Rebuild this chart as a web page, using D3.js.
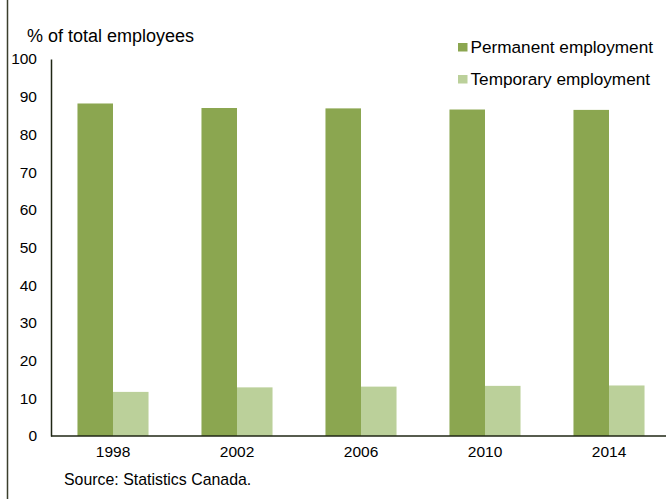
<!DOCTYPE html>
<html>
<head>
<meta charset="utf-8">
<script src="https://cdn.jsdelivr.net/npm/d3@7"></script>
<style>
  body { margin: 0; background: #fff; }
  svg { display: block; font-family: "Liberation Sans", Arial, sans-serif; }
</style>
</head>
<body>
<div id="plot"></div>
<script>
// data
const years = ["1998", "2002", "2006", "2010", "2014"];
const permanent = [88.2, 87.0, 86.9, 86.6, 86.5];
const temporary = [11.7, 12.9, 13.1, 13.3, 13.4];
const yTicks = [0, 10, 20, 30, 40, 50, 60, 70, 80, 90, 100];
const seriesNames = ["Permanent employment", "Temporary employment"];

const width = 666, height = 499;
const colors = ["#8ba650", "#bbd09a"];

const svg = d3.select("#plot")
  .append("svg")
  .attr("width", width)
  .attr("height", height);

// left frame line
svg.append("line")
  .attr("x1", 7.5).attr("x2", 7.5)
  .attr("y1", 0).attr("y2", height)
  .attr("stroke", "#3b3f2c")
  .attr("stroke-width", 1.5);

const x = d3.scaleBand()
  .domain(years)
  .range([51, 671])
  .paddingInner(0.427)
  .paddingOuter(0.2135);

const xs = d3.scaleBand()
  .domain([0, 1])
  .range([0, x.bandwidth()]);

const y = d3.scaleLinear()
  .domain([0, 100])
  .range([436, 59]);

// bars
const rows = years.map((yr, i) => ({ year: yr, values: [permanent[i], temporary[i]] }));

const groups = svg.selectAll(".year")
  .data(rows)
  .enter().append("g")
  .attr("class", "year")
  .attr("transform", d => `translate(${x(d.year)},0)`);

groups.selectAll("rect")
  .data(d => d.values.map((v, k) => ({ v, k })))
  .enter().append("rect")
  .attr("x", d => xs(d.k))
  .attr("width", xs.bandwidth())
  .attr("y", d => y(d.v))
  .attr("height", d => y(0) - y(d.v))
  .attr("fill", d => colors[d.k]);

// y axis
const yAxis = svg.append("g")
  .attr("transform", "translate(51,0)")
  .call(d3.axisLeft(y).tickValues(yTicks).tickSize(0).tickPadding(14));
yAxis.select(".domain").attr("stroke", "#1f2614").attr("stroke-width", 1.5);
yAxis.selectAll("text")
  .attr("font-size", "15.5px")
  .attr("fill", "#000")
  .attr("font-family", "Liberation Sans, Arial, sans-serif");

// x axis
const xAxis = svg.append("g")
  .attr("transform", "translate(0,436)")
  .call(d3.axisBottom(x).tickSize(0).tickPadding(10));
xAxis.select(".domain")
  .attr("d", "M51,0H671")
  .attr("stroke", "#1f2614").attr("stroke-width", 1.5);
xAxis.selectAll("text")
  .attr("font-size", "15.5px")
  .attr("fill", "#000")
  .attr("font-family", "Liberation Sans, Arial, sans-serif");

// axis title
svg.append("text")
  .attr("x", 27).attr("y", 42)
  .attr("font-size", "18px")
  .text("% of total employees");

// legend
const legend = svg.selectAll(".legend")
  .data(seriesNames)
  .enter().append("g")
  .attr("class", "legend")
  .attr("transform", (d, i) => `translate(458,${43 + i * 32})`);

legend.append("rect")
  .attr("width", 9.5).attr("height", 8.5)
  .attr("fill", (d, i) => colors[i]);

legend.append("text")
  .attr("x", 12.5).attr("y", 9.9)
  .attr("font-size", "17.2px")
  .text(d => d);

// source note
svg.append("text")
  .attr("x", 64).attr("y", 485)
  .attr("font-size", "15.9px")
  .text("Source: Statistics Canada.");
</script>
</body>
</html>
